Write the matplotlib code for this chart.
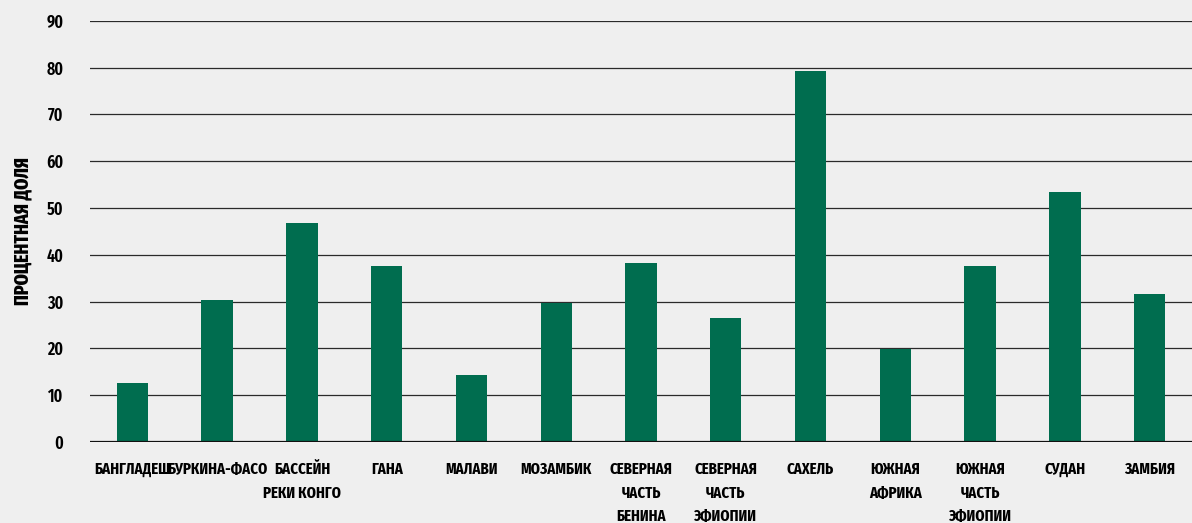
import matplotlib.pyplot as plt
import numpy as np

# Share of population by region, percent
regions = [
    "БАНГЛАДЕШ", "БУРКИНА-ФАСО", "БАССЕЙН\nРЕКИ КОНГО", "ГАНА", "МАЛАВИ",
    "МОЗАМБИК", "СЕВЕРНАЯ\nЧАСТЬ\nБЕНИНА", "СЕВЕРНАЯ\nЧАСТЬ\nЭФИОПИИ", "САХЕЛЬ",
    "ЮЖНАЯ\nАФРИКА", "ЮЖНАЯ\nЧАСТЬ\nЭФИОПИИ", "СУДАН", "ЗАМБИЯ",
]
shares = [12.5, 30.4, 46.8, 37.6, 14.4, 29.7, 38.3, 26.4, 79.3, 19.9, 37.6, 53.4, 31.7]
y_ticks = list(range(0, 100, 10))

BG = "#efefef"
GREEN = "#006d4f"
FONT = ["Fira Sans Extra Condensed", "DejaVu Sans"]

plt.rcParams["font.family"] = FONT

fig = plt.figure(figsize=(11.92, 5.23), dpi=100, facecolor=BG)
ax = fig.add_axes([0.0755, 0.155, 0.9245, 0.805], facecolor=BG)

x = np.arange(len(regions))
ax.bar(x, shares, width=0.37, color=GREEN, zorder=3)

ax.set_xlim(-0.5, len(regions) - 0.5)
ax.set_ylim(0, 90)
ax.set_yticks(y_ticks)
ax.set_yticklabels([str(t) for t in y_ticks], fontsize=12.5, fontweight=600)
for t in y_ticks[1:]:
    ax.axhline(t, color="#2a2a2a", linewidth=0.9, zorder=1)
ax.axhline(0, color="#111111", linewidth=1.6, zorder=4)

ax.set_xticks(x)
ax.set_xticklabels(regions, fontsize=11.5, fontweight=700, linespacing=1.62, va="top")
ax.tick_params(axis="x", length=0, pad=14)
ax.tick_params(axis="y", length=0, pad=19)

for s in ax.spines.values():
    s.set_visible(False)

ax.set_ylabel("ПРОЦЕНТНАЯ ДОЛЯ", fontsize=14, fontweight=800, labelpad=10)

fig.savefig("out.png", dpi=100, facecolor=BG)
